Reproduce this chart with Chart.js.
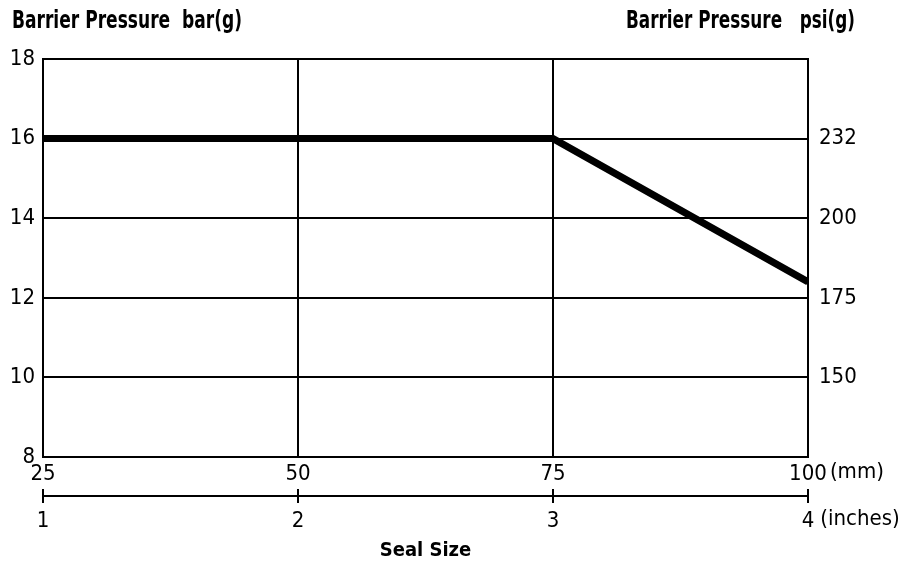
<!DOCTYPE html>
<html>
<head>
<meta charset="utf-8">
<script src="https://cdn.jsdelivr.net/npm/chart.js@4.4.1/dist/chart.umd.min.js"></script>
<style>
  html, body { margin: 0; padding: 0; background: #fff; }
  #wrap { width: 898px; height: 565px; }
</style>
</head>
<body>
<div id="wrap"><canvas id="sealChart"></canvas></div>
<script>
const sealSizeMm = [25, 75, 100];
const pressureBar = [16, 16, 12.4];
const mmTicks = [25, 50, 75, 100];
const inchTicks = [1, 2, 3, 4];
const barTicks = [8, 10, 12, 14, 16, 18];
const psiLabels = ['', '150', '175', '200', '232', ''];

const fontFamily = "'Liberation Sans Narrow', 'DejaVu Sans Condensed', 'Arial Narrow', sans-serif";
const tickFont = { family: fontFamily, size: 22 };

const fixedTicks = (list) => (scale) => { scale.ticks = list.map(v => ({ value: v })); };

// draws text squeezed to a given width (the original uses a condensed face)
function narrowText(ctx, text, x, y, width, align) {
  const w = ctx.measureText(text).width;
  const sx = Math.min(1, width / w);
  ctx.save();
  ctx.translate(align === 'right' ? x - width : x, y);
  ctx.scale(sx, 1);
  ctx.textAlign = 'left';
  ctx.fillText(text, 0, 0);
  ctx.restore();
}

// header texts, inch axis line and units
const extras = {
  id: 'extras',
  afterDraw(chart) {
    const { ctx, scales } = chart;
    ctx.save();
    ctx.fillStyle = '#000';
    ctx.strokeStyle = '#000';
    ctx.font = 'bold 24px ' + fontFamily;
    ctx.textBaseline = 'middle';
    narrowText(ctx, 'Barrier Pressure  bar(g)', 12, 22, 230, 'left');
    narrowText(ctx, 'Barrier Pressure   psi(g)', 855, 22, 229, 'right');

    const xi = scales.xIn;
    const ly = xi.top + 7;
    ctx.lineWidth = 2;
    ctx.beginPath();
    ctx.moveTo(xi.getPixelForValue(inchTicks[0]), ly);
    ctx.lineTo(xi.getPixelForValue(inchTicks[inchTicks.length - 1]), ly);
    ctx.stroke();

    ctx.font = tickFont.size + 'px ' + fontFamily;
    ctx.textAlign = 'left';
    ctx.textBaseline = 'top';
    const xm = scales.xMm;
    const lastMm = String(mmTicks[mmTicks.length - 1]);
    ctx.fillText('(mm)', xm.getPixelForValue(mmTicks[mmTicks.length - 1]) + ctx.measureText(lastMm).width / 2 + 3, xm.top + 4);
    const lastIn = String(inchTicks[inchTicks.length - 1]);
    ctx.fillText('(inches)', xi.getPixelForValue(inchTicks[inchTicks.length - 1]) + ctx.measureText(lastIn).width / 2 + 6, xi.top + 14 + 5);
    ctx.restore();
  }
};

new Chart(document.getElementById('sealChart'), {
  type: 'line',
  data: {
    datasets: [{
      data: sealSizeMm.map((x, i) => ({ x: x, y: pressureBar[i] })),
      borderColor: '#000',
      borderWidth: 7,
      borderCapStyle: 'butt',
      pointRadius: 0,
      tension: 0,
      xAxisID: 'xMm',
      yAxisID: 'yBar'
    }]
  },
  options: {
    responsive: true,
    maintainAspectRatio: false,
    animation: false,
    layout: { padding: { top: 59, left: 0, right: 0, bottom: 0 } },
    plugins: { legend: { display: false }, tooltip: { enabled: false } },
    scales: {
      xMm: {
        type: 'linear', position: 'bottom', weight: 0,
        min: 25, max: 100,
        afterBuildTicks: fixedTicks(mmTicks),
        afterFit: (s) => { s.height = 32; },
        grid: { color: '#000', lineWidth: 2, drawTicks: false },
        border: { display: true, color: '#000', width: 2 },
        ticks: { color: '#000', font: tickFont, padding: 4, maxRotation: 0 }
      },
      xIn: {
        type: 'linear', position: 'bottom', weight: 1,
        min: 1, max: 4,
        afterBuildTicks: fixedTicks(inchTicks),
        afterFit: (s) => { s.height = 76; },
        grid: { drawOnChartArea: false, drawTicks: true, tickLength: 14, tickColor: '#000', lineWidth: 2 },
        border: { display: false },
        ticks: { color: '#000', font: tickFont, padding: 5, maxRotation: 0 },
        title: { display: true, text: 'Seal Size', color: '#000', font: { family: fontFamily, size: 20, weight: 'bold' }, padding: { top: 0, bottom: 2 } }
      },
      yBar: {
        type: 'linear', position: 'left',
        min: 8, max: 18,
        afterBuildTicks: fixedTicks(barTicks),
        afterFit: (s) => { s.width = 43; },
        grid: { color: '#000', lineWidth: 2, drawTicks: false },
        border: { display: true, color: '#000', width: 2 },
        ticks: { color: '#000', font: tickFont, padding: 8 }
      },
      yPsi: {
        type: 'linear', position: 'right',
        min: 8, max: 18,
        afterBuildTicks: fixedTicks(barTicks),
        afterFit: (s) => { s.width = 90; },
        grid: { drawOnChartArea: false, drawTicks: false },
        border: { display: true, color: '#000', width: 2 },
        ticks: {
          color: '#000', font: tickFont, padding: 11,
          callback: (v) => psiLabels[barTicks.indexOf(v)]
        }
      }
    }
  },
  plugins: [extras]
});
</script>
</body>
</html>
